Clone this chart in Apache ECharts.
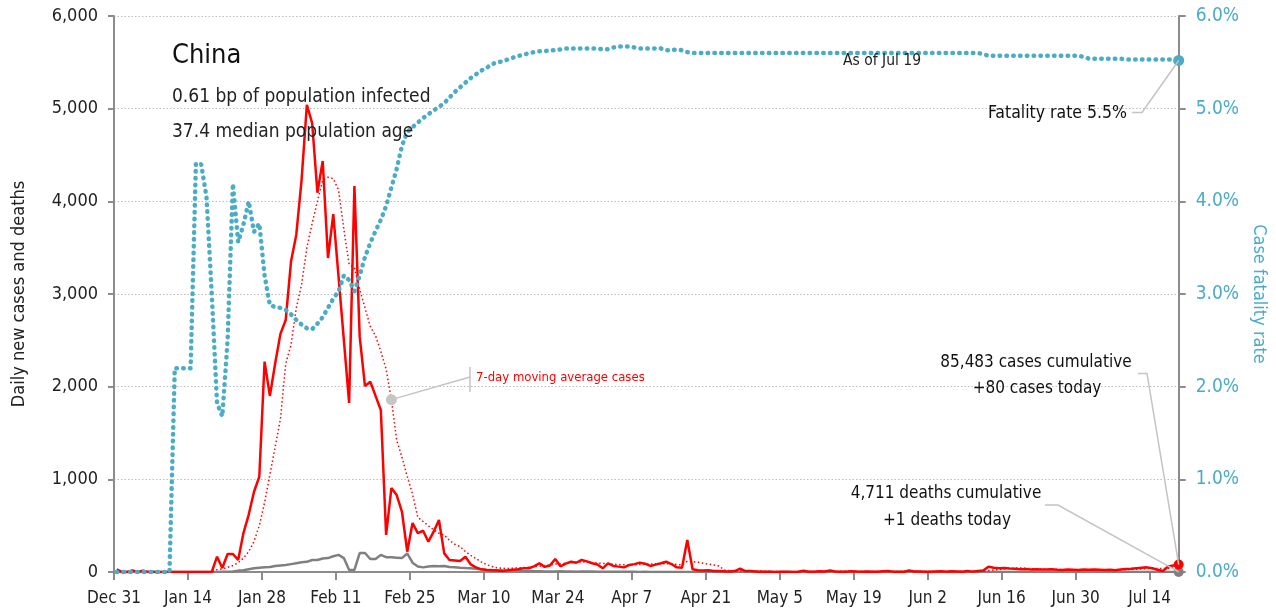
<!DOCTYPE html>
<html><head><meta charset="utf-8">
<script src="https://cdn.jsdelivr.net/npm/echarts@6/dist/echarts.min.js"></script>
<style>html,body{margin:0;padding:0;background:#fff}#c{width:1276px;height:615px}</style>
</head><body><div id="c"></div>
<script>
// ---- data ----
const startDate = [2019, 11, 31];   // Dec 31, 2019 = day 0
const dayCount = 202;               // Dec 31 .. Jul 19
const monthNames = ['Jan','Feb','Mar','Apr','May','Jun','Jul','Aug','Sep','Oct','Nov','Dec'];
const tickDays = 14;                // one tick label every two weeks

const cases = [
27,0,0,17,0,15,0,0,0,0,0,0,0,0,0,0,0,0,0,
165,43,194,194,130,420,620,866,1030,2270,1900,
2250,2570,2720,3350,3640,4230,5040,4845,4093,4435,
3388,3863,3184,2504,1824,4165,2540,2007,2054,1900,
1748,400,906,830,650,219,528,420,445,327,
435,561,201,130,125,119,165,83,50,29,
22,20,15,12,18,25,30,40,40,60,
94,55,70,140,61,90,111,100,130,115,
94,80,40,94,65,58,50,75,85,101,
90,65,80,95,111,86,50,45,345,29,
20,15,20,10,12,8,5,10,36,10,
12,6,3,4,2,1,3,2,1,2,14,2,4,7,5,17,6,4,3,8,5,4,6,2,4,8,10,4,2,3,16,5,6,3,2,6,9,4,8,6,3,11,4,12,15,
57,45,40,42,38,35,30,32,28,30,26,28,30,25,22,28,25,22,26,24,28,25,22,25,20,28,32,35,40,45,50,40,25,10,60,70,80];

const movingAvg = [
4,4,4,6,6,8,8,5,4,4,2,2,0,0,0,0,0,0,0,
25,35,50,70,100,150,220,330,500,750,1050,
1350,1650,2250,2450,2850,3100,3500,3763,4000,4230,
4260,4245,4122,3700,3320,3280,3050,2850,2650,2550,
2380,2190,1860,1420,1240,1030,840,590,545,500,
455,417,400,340,300,275,220,180,145,110,
80,60,45,40,38,40,45,48,52,58,
64,70,75,85,90,95,100,105,110,106,
100,96,92,88,84,80,78,76,77,80,
83,86,88,90,90,88,82,76,115,112,
105,95,85,75,65,22,15,12,15,14,
14,12,10,8,6,5,4,3,3,4,5,5,6,6,7,8,7,7,7,7,6,6,5,5,5,6,6,5,5,6,7,7,7,6,6,6,7,6,6,6,6,7,7,8,9,
16,22,27,33,38,43,44,40,37,34,31,29,28,27,26,25,25,25,24,24,25,25,24,24,23,24,25,27,30,33,37,39,38,36,40,43,48];

const deaths = [
0,0,0,0,0,0,0,0,0,0,0,0,0,0,0,0,0,0,0,
1,3,4,5,15,20,30,40,45,50,55,
65,70,75,85,95,105,110,130,130,145,
150,170,185,150,22,22,205,205,140,140,
185,160,158,155,150,200,100,60,50,60,
65,62,65,55,52,45,42,40,35,30,
25,22,20,15,12,10,9,8,8,7,
8,6,6,5,7,6,5,4,5,6,
5,4,4,3,3,2,3,2,2,1,
2,1,1,1,1,0,0,0,0,0,
0,0,0,0,0,0,0,0,0,0,
0,0,0,0,0,0,0,0,0,0,0,0,0,0,0,0,0,0,0,0,0,0,0,0,0,0,0,0,0,0,0,0,0,0,0,0,0,0,0,0,0,0,0,0,0,
0,0,0,0,0,0,0,0,0,0,0,0,0,0,0,0,0,0,0,0,0,0,0,0,0,0,0,0,0,0,0,0,0,0,0,0,1];

const fatalityRate = [
0,0,0,0,0,0,0,0,0,0,0,
2.2,2.2,2.2,2.2,4.41,4.4,4.05,3.0,1.82,1.68,
2.5,4.19,3.56,3.75,4.0,3.67,3.76,3.2,2.88,
2.86,2.85,2.83,2.78,2.72,2.67,2.63,2.62,2.68,2.75,
2.85,2.95,3.03,3.2,3.15,3.03,3.2,3.4,3.55,3.68,
3.8,3.95,4.15,4.35,4.6,4.75,4.8,4.85,4.9,4.94,
4.98,5.02,5.06,5.12,5.18,5.23,5.28,5.33,5.37,5.41,
5.44,5.48,5.5,5.51,5.53,5.55,5.57,5.58,5.6,5.61,
5.62,5.62,5.63,5.63,5.64,5.65,5.65,5.65,5.65,5.65,
5.65,5.65,5.64,5.64,5.66,5.67,5.67,5.67,5.66,5.65,
5.65,5.65,5.65,5.65,5.63,5.63,5.64,5.63,5.61,5.6,
5.6,5.6,5.6,5.6,5.6,5.6,5.6,5.6,5.6,5.6,5.6,5.6,5.6,5.6,5.6,5.6,5.6,5.6,5.6,5.6,
5.6,5.6,5.6,5.6,5.6,5.6,5.6,5.6,5.6,5.6,5.6,5.6,5.6,5.6,5.6,5.6,5.6,5.6,5.6,5.6,
5.6,5.6,5.6,5.6,5.6,5.6,5.6,5.6,5.6,5.6,5.6,5.6,5.6,5.6,5.59,
5.57,5.57,5.57,5.57,5.57,5.57,5.57,5.57,5.57,5.57,5.57,5.57,5.57,5.57,5.57,5.57,5.57,5.57,
5.56,5.54,5.54,5.54,5.54,5.54,5.54,5.54,5.53,5.53,5.53,5.53,5.53,5.53,5.53,5.53,5.53,5.53,5.52];

const leftTicks = [0, 6000, 1000];
const rightTicks = [0, 6, 1];
const country = 'China';
const infoLines = ['0.61 bp of population infected', '37.4 median population age'];
const asOf = 'As of Jul 19';
const fatalityNote = 'Fatality rate 5.5%';
const maNote = '7-day moving average cases';
const casesNote = ['85,483 cases cumulative', '+80 cases today'];
const deathsNote = ['4,711 deaths cumulative', '+1 deaths today'];

// ---- day labels ----
const dayLabel = i => {
  const d = new Date(startDate[0], startDate[1], startDate[2] + i);
  return monthNames[d.getMonth()] + ' ' + d.getDate();
};
// each daily value is reported for the middle of its day
const onDays = arr => arr.map((v, i) => [i + 0.5, v]);
const xMax = dayCount - 0.5;
const last = dayCount - 1;

const FONT = "'DejaVu Sans Condensed','Liberation Sans Narrow',sans-serif";
const BLUE = '#4BACC6';
const RED = '#FF0000';
const GRAY = '#808080';
const AXIS = '#8c8c8c';

const chart = echarts.init(document.getElementById('c'));
chart.setOption({
  animation: false,
  backgroundColor: '#fff',
  textStyle: { fontFamily: FONT },
  grid: { left: 114, right: 97, top: 16, bottom: 43, containLabel: false },
  xAxis: {
    type: 'value', min: 0, max: xMax, interval: tickDays,
    axisLine: { lineStyle: { color: AXIS, width: 2 } },
    axisTick: { length: 8, lineStyle: { color: AXIS, width: 2 } },
    axisLabel: { fontSize: 17, color: '#222', margin: 18, fontFamily: FONT,
      showMaxLabel: false,
      formatter: v => (v % tickDays === 0 ? dayLabel(v) : '') },
    splitLine: { show: false }
  },
  yAxis: [{
    type: 'value', min: leftTicks[0], max: leftTicks[1], interval: leftTicks[2],
    axisLine: { show: true, lineStyle: { color: AXIS, width: 2 } },
    axisTick: { show: true, length: 6, lineStyle: { color: AXIS, width: 2 } },
    axisLabel: { fontSize: 18, color: '#222', margin: 16, fontFamily: FONT },
    splitLine: { show: true, lineStyle: { color: '#bdbdbd', width: 1, type: [1.5, 2] } },
    name: 'Daily new cases and deaths', nameLocation: 'middle', nameGap: 86,
    nameTextStyle: { fontSize: 18, color: '#222', fontFamily: FONT }
  }, {
    type: 'value', position: 'right', min: rightTicks[0], max: rightTicks[1], interval: rightTicks[2],
    axisLine: { show: true, lineStyle: { color: AXIS, width: 2 } },
    axisTick: { show: true, length: 7, lineStyle: { color: AXIS, width: 2 } },
    axisLabel: { fontSize: 19, color: BLUE, margin: 17, fontFamily: FONT,
      formatter: v => v.toFixed(1) + '%' },
    splitLine: { show: false },
    name: 'Case fatality rate', nameLocation: 'middle', nameRotate: -90, nameGap: 71,
    nameTextStyle: { fontSize: 18, color: BLUE, fontFamily: FONT }
  }],
  series: [{
    name: 'Deaths', type: 'line', data: onDays(deaths), showSymbol: false, symbol: 'none',
    lineStyle: { color: GRAY, width: 2.5 }, z: 2,
    markPoint: { symbol: 'circle', symbolSize: 10, label: { show: false },
      itemStyle: { color: GRAY }, data: [{ coord: [last + 0.5, deaths[last]] }] }
  }, {
    name: 'MA', type: 'line', data: onDays(movingAvg), showSymbol: false, symbol: 'none',
    lineStyle: { color: RED, width: 1.5, type: [1.5, 2.5] }, z: 3
  }, {
    name: 'Cases', type: 'line', data: onDays(cases), showSymbol: false, symbol: 'none',
    lineStyle: { color: RED, width: 2.5 }, z: 4,
    markPoint: { symbol: 'circle', symbolSize: 10, label: { show: false },
      itemStyle: { color: RED }, data: [{ coord: [last + 0.5, cases[last]] }] }
  }, {
    name: 'CFR', type: 'line', yAxisIndex: 1, data: onDays(fatalityRate), showSymbol: false, symbol: 'none',
    lineStyle: { color: BLUE, width: 4.5, type: [0.5, 6.3], cap: 'round' }, z: 5,
    markPoint: { symbol: 'circle', symbolSize: 11, label: { show: false },
      itemStyle: { color: BLUE }, data: [{ coord: [last + 0.5, fatalityRate[last]] }] }
  }]
});

const px = (s, i, v) => chart.convertToPixel({ xAxisIndex: 0, yAxisIndex: s }, [i + 0.5, v]);
const pBlue = px(1, last, fatalityRate[last]);
const pRed = px(0, last, cases[last]);
const pGray = px(0, last, deaths[last]);
const maIdx = 52;
const pMA = px(0, maIdx, movingAvg[maIdx]);
const lineStyle = { stroke: '#c4c4c4', lineWidth: 1.5, fill: null };
const txt = (x, y, text, size, color, align) => ({
  type: 'text', x: x, y: y, z: 100,
  style: { text: text, fontSize: size, fontFamily: FONT, fill: color || '#111',
    textAlign: align || 'left', textVerticalAlign: 'middle' }
});

chart.setOption({
  graphic: [
    txt(172, 56, country, 27, '#111'),
    txt(172, 97, infoLines[0], 19, '#222'),
    txt(172, 132, infoLines[1], 19, '#222'),
    txt(843, 61, asOf, 15.5, '#222'),
    txt(1127, 113, fatalityNote, 17.5, '#111', 'right'),
    txt(476, 378, maNote, 13, RED),
    txt(1036, 363, casesNote[0], 17, '#111', 'center'),
    txt(1037, 389, casesNote[1], 17, '#111', 'center'),
    txt(946, 494, deathsNote[0], 17, '#111', 'center'),
    txt(947, 521, deathsNote[1], 17, '#111', 'center'),
    { type: 'polyline', z: 90, shape: { points: [[1132, 112.5], [1142, 112.5], pBlue] }, style: lineStyle },
    { type: 'polyline', z: 90, shape: { points: [[1138, 373.5], [1147, 373.5], pRed] }, style: lineStyle },
    { type: 'polyline', z: 90, shape: { points: [[1045, 505], [1058, 505], pGray] }, style: lineStyle },
    { type: 'polyline', z: 90, shape: { points: [pMA, [470, 377]] }, style: lineStyle },
    { type: 'line', z: 90, shape: { x1: 470, y1: 367, x2: 470, y2: 392 }, style: { stroke: '#c4c4c4', lineWidth: 1.5 } },
    { type: 'circle', z: 95, shape: { cx: pMA[0], cy: pMA[1], r: 5.5 }, style: { fill: '#c6c6c6' } }
  ]
});
</script></body></html>
